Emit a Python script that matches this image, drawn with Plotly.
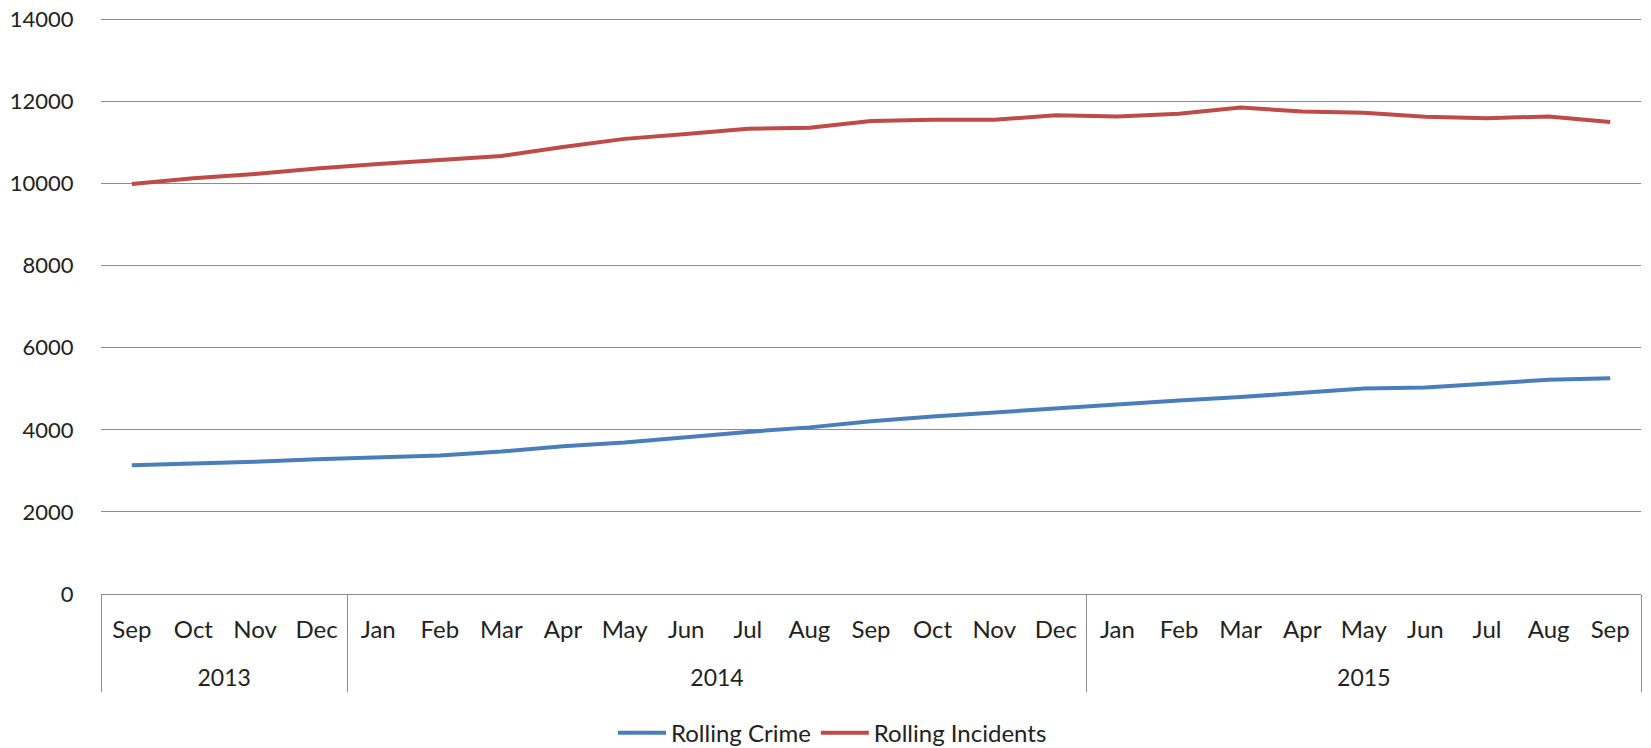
import plotly.graph_objects as go

years = ["2013"] * 4 + ["2014"] * 12 + ["2015"] * 9
months = ["Sep", "Oct", "Nov", "Dec",
          "Jan", "Feb", "Mar", "Apr", "May", "Jun", "Jul", "Aug", "Sep", "Oct", "Nov", "Dec",
          "Jan", "Feb", "Mar", "Apr", "May", "Jun", "Jul", "Aug", "Sep"]

rolling_crime = [3140, 3170, 3220, 3285, 3320, 3375, 3470, 3600,
                 3690, 3830, 3950, 4060, 4210, 4325, 4425, 4520,
                 4610, 4715, 4800, 4895, 5005, 5030, 5135, 5220, 5260]
rolling_incidents = [9990, 10130, 10235, 10370, 10480, 10570, 10675, 10890,
                     11090, 11210, 11335, 11360, 11525, 11555, 11555, 11665,
                     11635, 11705, 11855, 11755, 11725, 11630, 11595, 11635, 11500]

# plotly merges repeated inner labels across years, so tag each year's
# months with invisible zero-width spaces to keep them distinct
year_list = sorted(set(years))
month_keys = [m + "\u200b" * year_list.index(y) for y, m in zip(years, months)]
year_keys = ["<br><span style='font-size:23px'>" + y + "</span>" for y in years]

FONT = "Lato, 'Open Sans', sans-serif"
GRID = "#8c8c8c"

fig = go.Figure()
fig.add_trace(go.Scatter(
    x=[year_keys, month_keys], y=rolling_crime, name="Rolling Crime",
    mode="lines", line=dict(color="#4a7ebb", width=4),
))
fig.add_trace(go.Scatter(
    x=[year_keys, month_keys], y=rolling_incidents, name="Rolling Incidents",
    mode="lines", line=dict(color="#be4b48", width=4),
))

# page body adds an 8px offset, margins below account for it
fig.update_layout(
    width=1651, height=748,
    margin=dict(l=93, r=18, t=9, b=162, autoexpand=False),
    paper_bgcolor="white", plot_bgcolor="white",
    font=dict(family=FONT, size=24, color="#222222"),
    showlegend=True,
    legend=dict(orientation="h", x=0.475, xanchor="center", y=-0.241, yanchor="middle",
                font=dict(size=24), itemwidth=48, tracegroupgap=0),
)
fig.update_xaxes(
    type="multicategory", automargin=False,
    range=[-0.5, len(months) - 0.5],
    showline=True, linecolor=GRID, linewidth=1,
    showgrid=False,
    ticklabelstandoff=14,
    showdividers=True, dividercolor=GRID, dividerwidth=1,
    tickfont=dict(size=24),
)
# top just above 14000 so its gridline is not dropped at the edge
fig.update_yaxes(
    range=[0, 14060], dtick=2000, tickformat="d", automargin=False,
    showgrid=True, gridcolor=GRID, gridwidth=1,
    zeroline=False, showline=False,
    ticks="outside", ticklen=22, tickcolor="rgba(0,0,0,0)",
    ticklabeloverflow="allow",
    tickfont=dict(size=22),
)

fig.write_html("out.html")
